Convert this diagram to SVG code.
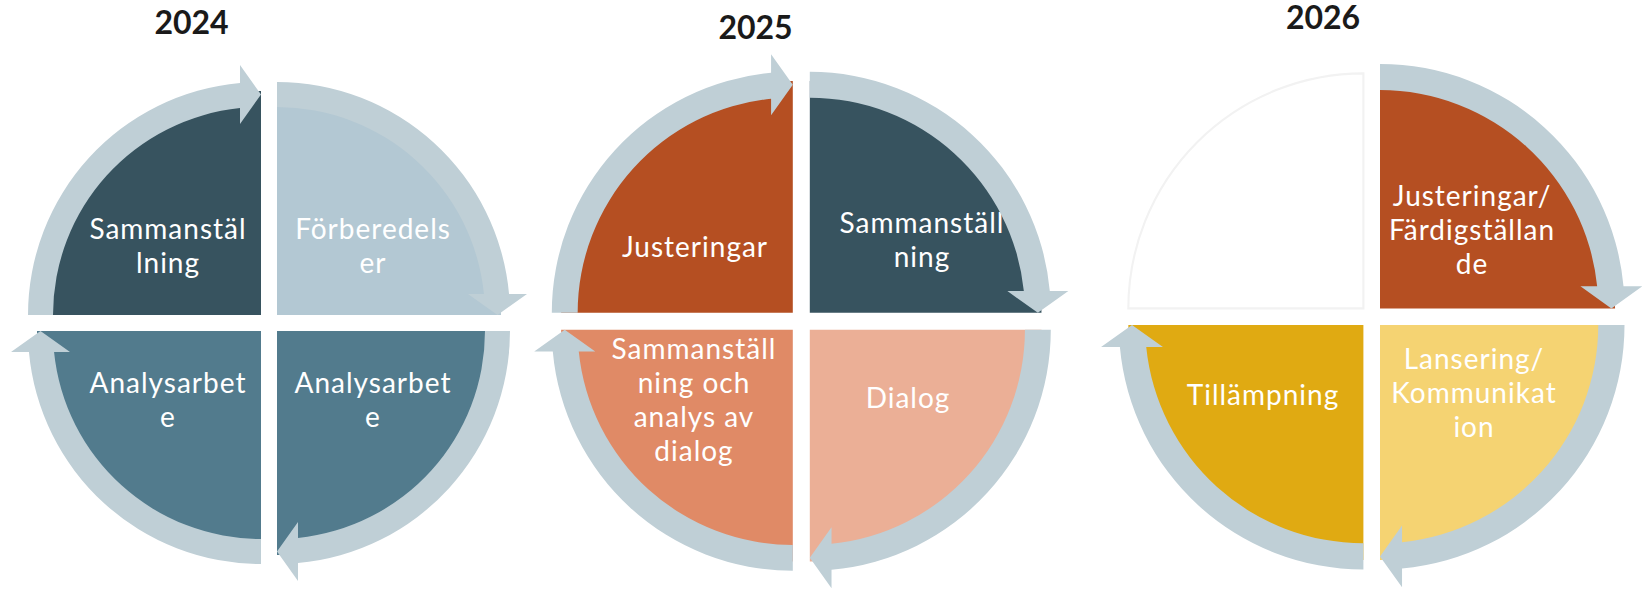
<svg xmlns="http://www.w3.org/2000/svg" width="1642" height="589" viewBox="0 0 1642 589">
  <style>
    .ring { fill: #bfcfd6; }
    .lbl { font-family: Lato, "Open Sans", "Liberation Sans", sans-serif; font-size: 28px; letter-spacing: 1px; fill: #ffffff; text-anchor: middle; }
    .title { font-family: Lato, "Open Sans", "Liberation Sans", sans-serif; font-size: 32px; font-weight: bold; fill: #1a1a1a; text-anchor: middle; }
    .q-dark { fill: #37535f; }
    .q-pale { fill: #b3c8d3; }
    .q-steel { fill: #527b8d; }
    .q-rust { fill: #b54f22; }
    .q-coral { fill: #e08a66; }
    .q-peach { fill: #ebaf96; }
    .q-gold { fill: #e0aa12; }
    .q-sand { fill: #f5d372; }
    .q-empty { fill: #ffffff; stroke: #f2f2f2; stroke-width: 2; }
  </style>
  <defs>
    <path id="seg" d="M -233 0 A 233 233 0 0 1 -21 -232.05 L -21 -250 L 0 -220.5 L -21 -191 L -21 -206.94 A 208 208 0 0 0 -208 0 Z"/>
    <path id="quad" d="M 0 0 L -224 0 A 224 224 0 0 1 0 -224 Z"/>
  </defs>

  <!-- Titles -->
  <text class="title" x="191.5" y="34">2024</text>
  <text class="title" x="755.5" y="39">2025</text>
  <text class="title" x="1323" y="29">2026</text>

  <!-- Circle 2024 -->
  <g id="c1-tl">
    <use href="#quad" class="q-dark" transform="translate(261,315)"/>
    <text class="lbl" x="168" y="238.5">Sammanstäl</text>
    <text class="lbl" x="168" y="272.5">lning</text>
  </g>
  <g id="c1-tr">
    <use href="#quad" class="q-pale" transform="translate(277,315) rotate(90)"/>
    <text class="lbl" x="373" y="238.5">Förberedels</text>
    <text class="lbl" x="373" y="272.5">er</text>
  </g>
  <g id="c1-br">
    <use href="#quad" class="q-steel" transform="translate(277,331) rotate(180)"/>
    <text class="lbl" x="373" y="392.5">Analysarbet</text>
    <text class="lbl" x="373" y="426.5">e</text>
  </g>
  <g id="c1-bl">
    <use href="#quad" class="q-steel" transform="translate(261,331) rotate(270)"/>
    <text class="lbl" x="168" y="392.5">Analysarbet</text>
    <text class="lbl" x="168" y="426.5">e</text>
  </g>

  <!-- Circle 2025 -->
  <g id="c2-tl">
    <use href="#quad" class="q-rust" transform="translate(792.8,312.8) scale(1.0343)"/>
    <text class="lbl" x="695" y="257">Justeringar</text>
  </g>
  <g id="c2-tr">
    <use href="#quad" class="q-dark" transform="translate(809.8,312.8) rotate(90) scale(1.0343)"/>
    <text class="lbl" x="922" y="232.5">Sammanställ</text>
    <text class="lbl" x="922" y="266.5">ning</text>
  </g>
  <g id="c2-br">
    <use href="#quad" class="q-peach" transform="translate(809.8,329.8) rotate(180) scale(1.0343)"/>
    <text class="lbl" x="908" y="408">Dialog</text>
  </g>
  <g id="c2-bl">
    <use href="#quad" class="q-coral" transform="translate(792.8,329.8) rotate(270) scale(1.0343)"/>
    <text class="lbl" x="694" y="359">Sammanställ</text>
    <text class="lbl" x="694" y="393">ning och</text>
    <text class="lbl" x="694" y="427">analys av</text>
    <text class="lbl" x="694" y="461">dialog</text>
  </g>

  <!-- Circle 2026 -->
  <g id="c3-tl">
    <use href="#quad" class="q-empty" transform="translate(1363.4,308.4) scale(1.0494)"/>
  </g>
  <g id="c3-tr">
    <use href="#quad" class="q-rust" transform="translate(1380,308.4) rotate(90) scale(1.0494)"/>
    <text class="lbl" x="1472" y="206">Justeringar/</text>
    <text class="lbl" x="1472" y="240">Färdigställan</text>
    <text class="lbl" x="1472" y="274">de</text>
  </g>
  <g id="c3-br">
    <use href="#quad" class="q-sand" transform="translate(1380,325) rotate(180) scale(1.0494)"/>
    <text class="lbl" x="1474" y="368.5">Lansering/</text>
    <text class="lbl" x="1474" y="402.5">Kommunikat</text>
    <text class="lbl" x="1474" y="436.5">ion</text>
  </g>
  <g id="c3-bl">
    <use href="#quad" class="q-gold" transform="translate(1363.4,325) rotate(270) scale(1.0494)"/>
    <text class="lbl" x="1263" y="405">Tillämpning</text>
  </g>

  <!-- Cycle arrows -->
  <g id="connectors">
    <use href="#seg" class="ring" transform="translate(261,315)"/>
    <use href="#seg" class="ring" transform="translate(277,315) rotate(90)"/>
    <use href="#seg" class="ring" transform="translate(277,331) rotate(180)"/>
    <use href="#seg" class="ring" transform="translate(261,331) rotate(270)"/>

    <use href="#seg" class="ring" transform="translate(792.8,312.8) scale(1.0343)"/>
    <use href="#seg" class="ring" transform="translate(809.8,312.8) rotate(90) scale(1.0343)"/>
    <use href="#seg" class="ring" transform="translate(809.8,329.8) rotate(180) scale(1.0343)"/>
    <use href="#seg" class="ring" transform="translate(792.8,329.8) rotate(270) scale(1.0343)"/>

    <use href="#seg" class="ring" transform="translate(1380,308.4) rotate(90) scale(1.0494)"/>
    <use href="#seg" class="ring" transform="translate(1380,325) rotate(180) scale(1.0494)"/>
    <use href="#seg" class="ring" transform="translate(1363.4,325) rotate(270) scale(1.0494)"/>
  </g>
</svg>
